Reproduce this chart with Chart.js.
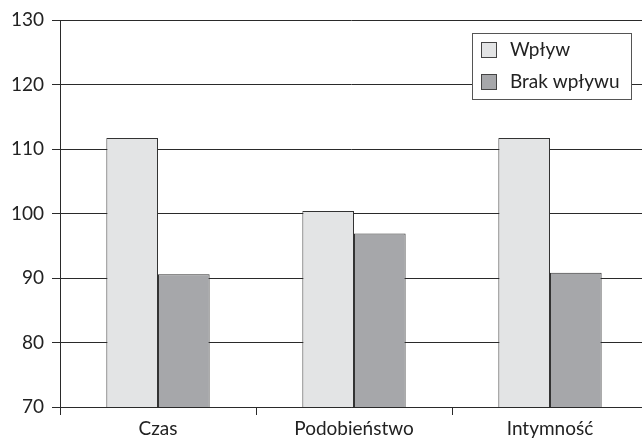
<!DOCTYPE html>
<html lang="pl">
<head>
    <meta charset="UTF-8">
    <title>Wpływ</title>
    <script src="https://cdn.jsdelivr.net/npm/chart.js"></script>
    <style>
        html, body { margin: 0; padding: 0; background: #fff; }
        .chart-container { position: relative; width: 642px; height: 440px; }
    </style>
</head>
<body>
    <div class="chart-container">
        <canvas id="barChart" width="642" height="440"></canvas>
    </div>

    <script>
        // data
        const categories = ['Czas', 'Podobieństwo', 'Intymność'];
        const seriesNames = ['Wpływ', 'Brak wpływu'];
        const wplyw = [111.7, 100.4, 111.7];
        const brakWplywu = [90.6, 96.9, 90.8];
        const yTicks = [70, 80, 90, 100, 110, 120, 130];

        const fillColors = ['#e3e4e5', '#a6a7aa'];
        const lineColor = '#2a2a2a';
        const fontFamily = 'Lato, "Noto Sans", sans-serif';

        // the original's category axis runs a little past the right edge
        const widenX = {
            id: 'widenX',
            afterLayout(chart) {
                const xs = chart.scales.x;
                xs.width = 588;
                xs.right = xs.left + xs.width;
                xs.configure();
            }
        };

        // legend drawn inside the plot, boxed, like the original
        const boxLegend = {
            id: 'boxLegend',
            afterDatasetsDraw(chart) {
                const ctx = chart.ctx;
                const x = 472, y = 33, w = 159, h = 66;
                ctx.save();
                ctx.fillStyle = '#fff';
                ctx.fillRect(x, y, w, h);
                ctx.strokeStyle = '#555';
                ctx.lineWidth = 1;
                ctx.strokeRect(x + 0.5, y + 0.5, w, h);
                ctx.font = '19px ' + fontFamily;
                ctx.textBaseline = 'middle';
                chart.data.datasets.forEach((ds, i) => {
                    const cy = y + 17 + i * 32;
                    ctx.fillStyle = ds.backgroundColor;
                    ctx.fillRect(x + 9, cy - 8, 15, 15);
                    ctx.strokeStyle = '#444';
                    ctx.strokeRect(x + 9.5, cy - 7.5, 15, 15);
                    ctx.fillStyle = '#222';
                    ctx.fillText(ds.label, x + 38, cy);
                });
                ctx.restore();
            }
        };

        new Chart(document.getElementById('barChart').getContext('2d'), {
            type: 'bar',
            data: {
                labels: categories,
                datasets: [
                    { label: seriesNames[0], data: wplyw, backgroundColor: fillColors[0] },
                    { label: seriesNames[1], data: brakWplywu, backgroundColor: fillColors[1] }
                ].map(ds => Object.assign(ds, {
                    borderColor: '#333',
                    borderWidth: 1,
                    borderSkipped: 'bottom',
                    categoryPercentage: 0.527,
                    barPercentage: 1.0
                }))
            },
            options: {
                responsive: false,
                animation: false,
                devicePixelRatio: 1,
                layout: { padding: { top: 20, right: 0, left: 0, bottom: 0 } },
                plugins: {
                    legend: { display: false },
                    tooltip: { enabled: false }
                },
                scales: {
                    x: {
                        afterFit: scale => { scale.height = 33; },
                        grid: {
                            offset: true,
                            drawOnChartArea: false,
                            drawTicks: true,
                            tickLength: 8,
                            color: lineColor
                        },
                        border: { display: true, color: lineColor, width: 1 },
                        ticks: {
                            color: '#222',
                            padding: 2,
                            maxRotation: 0,
                            autoSkip: false,
                            font: { family: fontFamily, size: 19 }
                        }
                    },
                    y: {
                        min: yTicks[0],
                        max: yTicks[yTicks.length - 1],
                        afterFit: scale => { scale.width = 60; },
                        afterBuildTicks: scale => { scale.ticks = yTicks.map(v => ({ value: v })); },
                        grid: {
                            color: lineColor,
                            lineWidth: 1,
                            tickLength: 8
                        },
                        border: { display: true, color: lineColor, width: 1 },
                        ticks: {
                            color: '#222',
                            padding: 8,
                            autoSkip: false,
                            font: { family: fontFamily, size: 19 }
                        }
                    }
                }
            },
            plugins: [widenX, boxLegend]
        });
    </script>
</body>
</html>
